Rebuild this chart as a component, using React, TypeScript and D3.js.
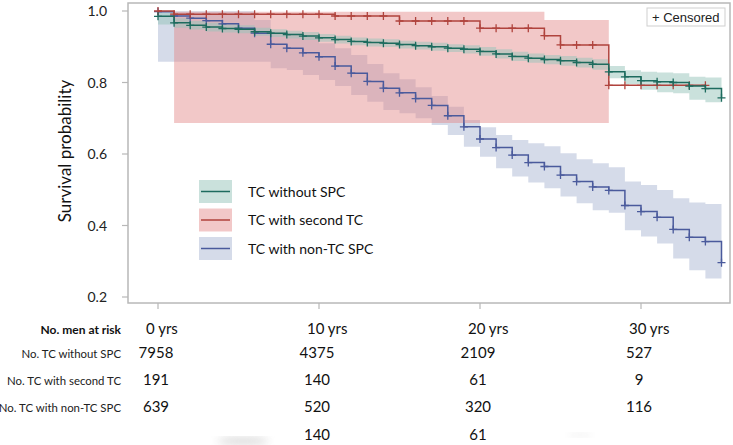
import * as d3 from 'd3';
import React, {useEffect, useRef} from 'react';

// follow-up in years, one step per year
const tealTime = [0,1,2,3,4,5,6,7,8,9,10,11,12,13,14,15,16,17,18,19,20,21,22,23,24,25,26,27,28,29,30,31,32,33,34,35];
const tealSurv = [0.985,0.967,0.960,0.955,0.951,0.949,0.942,0.938,0.934,0.930,0.925,0.920,0.915,0.912,0.910,0.906,0.903,0.900,0.896,0.893,0.887,0.880,0.873,0.868,0.864,0.861,0.856,0.851,0.830,0.816,0.805,0.802,0.800,0.790,0.783,0.757];
const tealLo = [0.962,0.953,0.948,0.943,0.940,0.938,0.931,0.927,0.923,0.919,0.914,0.909,0.904,0.901,0.899,0.895,0.892,0.889,0.885,0.881,0.875,0.867,0.860,0.855,0.851,0.847,0.842,0.836,0.812,0.796,0.780,0.773,0.770,0.752,0.745,0.745];
const tealHi = [0.995,0.980,0.972,0.967,0.963,0.960,0.953,0.949,0.945,0.941,0.936,0.931,0.926,0.923,0.921,0.917,0.914,0.911,0.907,0.904,0.899,0.893,0.886,0.881,0.877,0.874,0.869,0.865,0.846,0.834,0.830,0.828,0.826,0.816,0.814,0.814];

const redTime = [0,1,2,3,4,5,6,7,8,9,10,11,12,13,14,15,16,17,18,19,20,21,22,23,24,25,26,27,28,29,30,31,32,33,34];
const redSurv = [1.0,0.991,0.991,0.991,0.991,0.991,0.991,0.991,0.991,0.991,0.991,0.986,0.986,0.986,0.986,0.972,0.972,0.972,0.972,0.972,0.952,0.952,0.952,0.952,0.931,0.905,0.905,0.905,0.792,0.792,0.792,0.792,0.792,0.792,0.792];
const redLo = [null,0.687,0.687,0.687,0.687,0.687,0.687,0.687,0.687,0.687,0.687,0.687,0.687,0.687,0.687,0.687,0.687,0.687,0.687,0.687,0.687,0.687,0.687,0.687,0.687,0.687,0.687,0.687,0.687,null,null,null,null,null,null];
const redHi = [null,0.998,0.998,0.998,0.998,0.998,0.998,0.998,0.998,0.998,0.998,0.998,0.998,0.998,0.998,0.998,0.998,0.998,0.998,0.998,0.998,0.998,0.998,0.998,0.975,0.975,0.975,0.975,0.975,null,null,null,null,null,null];

const blueTime = [0,1,2,3,4,5,6,7,8,9,10,11,12,13,14,15,16,17,18,19,20,21,22,23,24,25,26,27,28,29,30,31,32,33,34,35];
const blueSurv = [0.998,0.986,0.980,0.973,0.964,0.952,0.938,0.907,0.896,0.883,0.872,0.846,0.826,0.803,0.784,0.771,0.755,0.736,0.707,0.676,0.642,0.618,0.597,0.576,0.565,0.541,0.523,0.508,0.498,0.456,0.439,0.423,0.389,0.367,0.355,0.296];
const blueLo = [0.858,0.858,0.858,0.858,0.858,0.858,0.858,0.840,0.835,0.821,0.807,0.790,0.765,0.746,0.723,0.714,0.700,0.681,0.653,0.620,0.592,0.560,0.537,0.520,0.504,0.481,0.462,0.443,0.436,0.387,0.369,0.350,0.308,0.275,0.252,0.252];
const blueHi = [0.999,0.999,0.999,0.999,0.999,0.999,0.975,0.942,0.938,0.930,0.910,0.896,0.877,0.852,0.826,0.809,0.787,0.762,0.732,0.695,0.675,0.653,0.639,0.630,0.622,0.602,0.585,0.574,0.563,0.523,0.513,0.499,0.476,0.464,0.460,0.460];

const yTicks = [0.2, 0.4, 0.6, 0.8, 1.0];
const riskYears = [0, 10, 20, 30];
const riskYearLabels = ['0 yrs', '10 yrs', '20 yrs', '30 yrs'];
const riskLabels = ['No. TC without SPC', 'No. TC with second TC', 'No. TC with non-TC SPC'];
const riskWithout = [7958, 4375, 2109, 527];
const riskSecond = [191, 140, 61, 9];
const riskNonTC = [639, 520, 320, 116];
const riskExtra = [null, 140, 61, null];

const legendNames = ['TC without SPC', 'TC with second TC', 'TC with non-TC SPC'];

const FONT = 'Lato, "Open Sans", sans-serif';

function App() {
  const ref = useRef(null);

  useEffect(() => {
    const svg = d3.select(ref.current);
    svg.selectAll('*').remove();

    const left = 128, right = 730, top = 3, bottom = 303;
    const x = d3.scaleLinear().domain([0, 30]).range([158, 641]);
    const y = d3.scaleLinear().domain([0.2, 1.0]).range([297, 11]);

    const series = [
      {t: blueTime, s: blueSurv, lo: blueLo, hi: blueHi, line: '#4a5a9c', band: 'rgba(162,175,206,0.45)'},
      {t: redTime, s: redSurv, lo: redLo, hi: redHi, line: '#b0433d', band: 'rgba(226,133,133,0.45)'},
      {t: tealTime, s: tealSurv, lo: tealLo, hi: tealHi, line: '#1d6b5e', band: 'rgba(150,196,186,0.5)'}
    ];

    const defs = svg.append('defs');
    defs.append('filter').attr('id', 'smudge').append('feGaussianBlur').attr('stdDeviation', 4);

    // frame
    svg.append('rect')
        .attr('x', left).attr('y', top)
        .attr('width', right - left).attr('height', bottom - top)
        .attr('fill', 'white').attr('stroke', '#b8b8b8').attr('stroke-width', 1.5);

    const area = d3.area()
        .defined((d) => d.lo != null)
        .x((d) => x(d.t))
        .y0((d) => y(d.lo))
        .y1((d) => y(d.hi))
        .curve(d3.curveStepAfter);

    const line = d3.line()
        .x((d) => x(d.t))
        .y((d) => y(d.s))
        .curve(d3.curveStepAfter);

    const rows = series.map((sr) =>
        sr.t.map((t, i) => ({t: t, s: sr.s[i], lo: sr.lo[i], hi: sr.hi[i]})));

    series.forEach((sr, k) => {
      svg.append('path').attr('d', area(rows[k])).attr('fill', sr.band);
    });

    series.forEach((sr, k) => {
      svg.append('path')
          .attr('d', line(rows[k]))
          .attr('fill', 'none')
          .attr('stroke', sr.line)
          .attr('stroke-width', 1.5);
      svg.append('g').selectAll('path')
          .data(rows[k])
          .enter()
          .append('path')
          .attr('d', (d) => {
            const cx = x(d.t), cy = y(d.s);
            return 'M' + (cx - 4) + ',' + cy + 'h8M' + cx + ',' + (cy - 4) + 'v8';
          })
          .attr('stroke', sr.line)
          .attr('stroke-width', 1.3);
    });

    // y axis ticks
    const yAxis = svg.append('g');
    yTicks.forEach((v) => {
      yAxis.append('line')
          .attr('x1', left - 6).attr('x2', left)
          .attr('y1', y(v)).attr('y2', y(v))
          .attr('stroke', '#b8b8b8').attr('stroke-width', 1.2);
      yAxis.append('text')
          .attr('x', 107).attr('y', y(v) + 5)
          .attr('text-anchor', 'end')
          .attr('font-family', FONT).attr('font-size', 14)
          .attr('fill', '#222')
          .text(v.toFixed(1));
    });

    svg.append('text')
        .attr('transform', 'translate(71,151) rotate(-90)')
        .attr('text-anchor', 'middle')
        .attr('font-family', FONT).attr('font-size', 17)
        .attr('fill', '#111')
        .text('Survival probability');

    // x ticks
    riskYears.forEach((t) => {
      svg.append('line')
          .attr('x1', x(t)).attr('x2', x(t))
          .attr('y1', bottom).attr('y2', bottom + 6)
          .attr('stroke', '#b8b8b8').attr('stroke-width', 1.2);
    });

    // censored box
    svg.append('rect')
        .attr('x', 647).attr('y', 8).attr('width', 78).attr('height', 18)
        .attr('fill', 'white').attr('stroke', '#cfcfcf');
    svg.append('text')
        .attr('x', 652).attr('y', 21.5)
        .attr('font-family', '"Liberation Sans", Arial, sans-serif').attr('font-size', 13)
        .attr('fill', '#222')
        .text('+ Censored');

    // legend
    const legendOrder = [2, 1, 0];
    legendNames.forEach((name, i) => {
      const sr = series[legendOrder[i]];
      const g = svg.append('g').attr('transform', 'translate(199,' + (180 + i * 28.5) + ')');
      g.append('rect').attr('width', 33).attr('height', 23).attr('fill', sr.band);
      g.append('line')
          .attr('x1', 2).attr('x2', 31).attr('y1', 11.5).attr('y2', 11.5)
          .attr('stroke', sr.line).attr('stroke-width', 1.5);
      g.append('text')
          .attr('x', 49).attr('y', 16.5)
          .attr('font-family', FONT).attr('font-size', 14)
          .attr('fill', '#111')
          .text(name);
    });

    // numbers at risk
    const rowY = [334, 358, 385, 412, 440];
    svg.append('text')
        .attr('x', 121).attr('y', rowY[0])
        .attr('text-anchor', 'end')
        .attr('font-family', FONT).attr('font-size', 12).attr('font-weight', 'bold')
        .attr('fill', '#111')
        .text('No. men at risk');
    riskLabels.forEach((lab, i) => {
      svg.append('text')
          .attr('x', 121).attr('y', rowY[i + 1])
          .attr('text-anchor', 'end')
          .attr('font-family', FONT).attr('font-size', 11.4)
          .attr('fill', '#222')
          .text(lab);
    });
    riskYearLabels.forEach((lab, i) => {
      svg.append('text')
          .attr('x', x(riskYears[i]) - 12).attr('y', rowY[0])
          .attr('font-family', FONT).attr('font-size', 15)
          .attr('fill', '#111')
          .text(lab);
    });
    [riskWithout, riskSecond, riskNonTC, riskExtra].forEach((vals, r) => {
      vals.forEach((v, i) => {
        if (v == null) return;
        svg.append('text')
            .attr('x', x(riskYears[i]) - 2).attr('y', rowY[r + 1])
            .attr('text-anchor', 'middle')
            .attr('font-family', FONT).attr('font-size', 15)
            .attr('fill', '#111')
            .text(v);
      });
    });

    // faint scan smudges under the table
    svg.append('ellipse')
        .attr('cx', 243).attr('cy', 441).attr('rx', 26).attr('ry', 4)
        .attr('fill', '#9a9a9a').attr('opacity', 0.35)
        .attr('filter', 'url(#smudge)');
    svg.append('ellipse')
        .attr('cx', 580).attr('cy', 435).attr('rx', 12).attr('ry', 2)
        .attr('fill', '#bbb').attr('opacity', 0.25)
        .attr('filter', 'url(#smudge)');
  }, []);

  return (
      <svg ref={ref} width={733} height={445}
           style={{position: 'absolute', left: 0, top: 0, background: 'white'}}></svg>
  );
}

export default App;
